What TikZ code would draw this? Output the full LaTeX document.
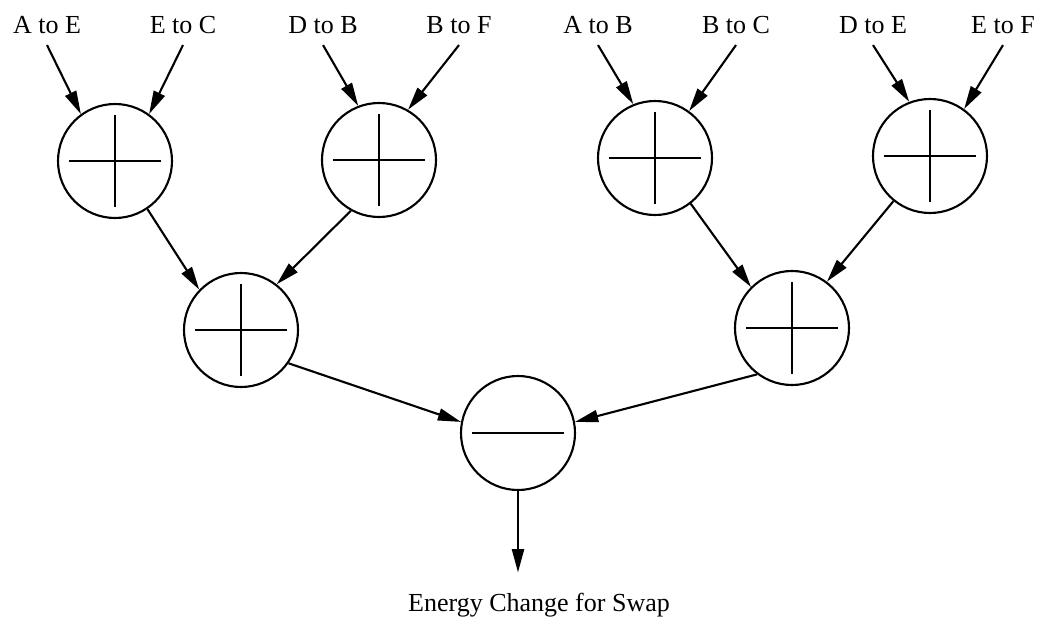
\documentclass[tikz,border=0pt]{standalone}
\usepackage{fontspec}
\setmainfont{Liberation Serif}
\usetikzlibrary{arrows.meta}

\begin{document}
\begin{tikzpicture}[
    lbl/.style={inner xsep=0pt, inner ysep=7.5pt, font=\fontsize{18.5}{22}\selectfont},
    op/.style={circle, draw, line width=1.5pt, minimum size=2.85cm},
    plus/.style={op, path picture={
        \draw[line width=1.5pt] ([xshift=-1.15cm]path picture bounding box.center) -- ([xshift=1.15cm]path picture bounding box.center);
        \draw[line width=1.5pt] ([yshift=-1.15cm]path picture bounding box.center) -- ([yshift=1.15cm]path picture bounding box.center);}},
    minus/.style={op, path picture={
        \draw[line width=1.5pt] ([xshift=-1.15cm]path picture bounding box.center) -- ([xshift=1.15cm]path picture bounding box.center);}},
    arr/.style={-{Triangle[length=0.58cm, width=0.3cm]}, line width=1.5pt}
]
\useasboundingbox (0,0) rectangle (26.125,-15.65);

% inputs
\node[lbl, anchor=base] (ae) at (1.175, -0.85) {A to E};
\node[lbl, anchor=base] (ec) at (4.575, -0.85) {E to C};
\node[lbl, anchor=base] (db) at (8.075, -0.85) {D to B};
\node[lbl, anchor=base] (bf) at (11.475, -0.85) {B to F};
\node[lbl, anchor=base] (ab) at (14.95, -0.85) {A to B};
\node[lbl, anchor=base] (bc) at (18.4, -0.85) {B to C};
\node[lbl, anchor=base] (de) at (21.825, -0.85) {D to E};
\node[lbl, anchor=base] (ef) at (25.075, -0.85) {E to F};

% adders and the final subtraction
\node[plus] (t1) at (2.875, -4.025) {};
\node[plus] (t2) at (9.475, -4.0) {};
\node[plus] (t3) at (16.375, -3.95) {};
\node[plus] (t4) at (23.25, -3.9) {};
\node[plus] (m1) at (6.025, -8.25) {};
\node[plus] (m2) at (19.8, -8.2) {};
\node[minus] (b) at (12.95, -10.825) {};

\node[lbl, anchor=base, inner ysep=0.5cm] (out) at (13.475, -15.275) {Energy Change for Swap};

\draw[arr] (ae.south) -- (t1.126);
\draw[arr] (ec.south) -- (t1.54);
\draw[arr] (db.south) -- (t2.111);
\draw[arr] (bf.south) -- (t2.60);
\draw[arr] (ab.south) -- (t3.112);
\draw[arr] (bc.south) -- (t3.54);
\draw[arr] (de.south) -- (t4.111);
\draw[arr] (ef.south) -- (t4.54);

\draw[arr] (t1.-56) -- (m1.136);
\draw[arr] (t2.-119) -- (m1.52);
\draw[arr] (t3.-52) -- (m2.135);
\draw[arr] (t4.-129) -- (m2.53);

\draw[arr] (m1.-35) -- (b.169);
\draw[arr] (m2.-127) -- (b.11);
\draw[arr] (b.south) -- (b.south |- out.north);
\end{tikzpicture}
\end{document}
